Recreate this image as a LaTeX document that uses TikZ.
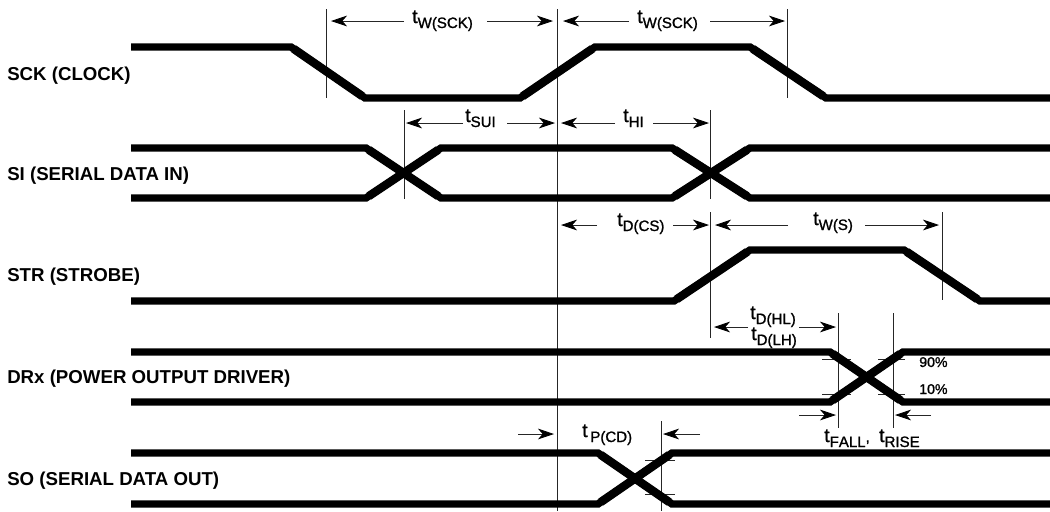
\documentclass[tikz,border=0pt]{standalone}
\usepackage{fontspec}
\usetikzlibrary{arrows.meta}
\setmainfont{Liberation Sans}
\newfontfamily\tlabfont[FakeBold=1.2,Kerning=Off]{Liberation Sans}
\newcommand{\tlab}[1]{{\tlabfont\fontsize{14.5}{15}\selectfont t}\raisebox{-3.75pt}{\tlabfont\fontsize{11.3}{12}\selectfont #1}}
\tikzset{
  wave/.style={line width=5.6pt,line join=miter,line cap=butt,black},
  slope/.style={line width=6.3pt,line cap=butt,black,shorten >=2.5pt,shorten <=2.5pt},
  guide/.style={line width=0.6pt,black!85},
  tick/.style={line width=0.5pt,black!85},
  dimline/.style={line width=0.6pt,black!85,-{Stealth[length=12pt,width=8pt,inset=3.5pt,black]}},
  siglab/.style={anchor=west,inner sep=0,font=\bfseries\fontsize{14}{16}\selectfont},
  tlabel/.style={anchor=base west,inner sep=0},
  pct/.style={anchor=base west,inner sep=0,font=\tlabfont\fontsize{10.6}{12}\selectfont},
}
\newcommand{\darrow}[4]{\coordinate (#1-a) at (#2,#4);\coordinate (#1-b) at (#3,#4);\draw[dimline] (#1-a) -- (#1-b);}
\begin{document}
\begin{tikzpicture}[x=0.75pt,y=-0.75pt]
\useasboundingbox (0,0) rectangle (1050,511);
% guides
\draw[guide] (326,9) -- (326,98);
\draw[guide] (557,9) -- (557,511);
\draw[guide] (787,9) -- (787,98);
\draw[guide] (404,110) -- (404,199);
\draw[guide] (710,110) -- (710,199);
\draw[guide] (710,212) -- (710,338);
\draw[guide] (942,212) -- (942,300);
\draw[guide] (838,313) -- (838,428);
\draw[guide] (893,313) -- (893,428);
\draw[guide] (661,421) -- (661,511);
% ticks
\draw[tick] (822,359) -- (851,359);
\draw[tick] (878,359) -- (905,359);
\draw[tick] (822,394) -- (851,394);
\draw[tick] (878,394) -- (905,394);
\draw[tick] (645,460) -- (675,460);
\draw[tick] (645,494) -- (675,494);
% waveforms
\draw[wave] (131,47) -- (291,47) -- (365,98) -- (520,98) -- (595,47) -- (750,47) -- (826,98) -- (1050,98);
\draw[wave] (131,148) -- (366,148) -- (441,198) -- (672,198) -- (750,148) -- (1050,148);
\draw[wave] (131,198) -- (366,198) -- (441,148) -- (672,148) -- (750,198) -- (1050,198);
\draw[wave] (131,301) -- (674,301) -- (750,250) -- (904,250) -- (980,301) -- (1050,301);
\draw[wave] (131,352) -- (830,352) -- (903,402) -- (1050,402);
\draw[wave] (131,402) -- (830,402) -- (903,352) -- (1050,352);
\draw[wave] (131,453) -- (598,453) -- (672,504) -- (1050,504);
\draw[wave] (131,504) -- (598,504) -- (672,453) -- (1050,453);
% heavier sloped edges
\draw[slope] (291,47) -- (365,98);
\draw[slope] (520,98) -- (595,47);
\draw[slope] (750,47) -- (826,98);
\draw[slope] (366,148) -- (441,198);
\draw[slope] (366,198) -- (441,148);
\draw[slope] (672,198) -- (750,148);
\draw[slope] (672,148) -- (750,198);
\draw[slope] (674,301) -- (750,250);
\draw[slope] (904,250) -- (980,301);
\draw[slope] (830,352) -- (903,402);
\draw[slope] (830,402) -- (903,352);
\draw[slope] (598,453) -- (672,504);
\draw[slope] (598,504) -- (672,453);
% signal labels
\node[siglab] (sck) at (7,76) {SCK (CLOCK)};
\node[siglab] (si) at (7,176) {SI (SERIAL DATA IN)};
\node[siglab] (str) at (7,277) {STR (STROBE)};
\node[siglab] (drx) at (7,379) {DRx (POWER OUTPUT DRIVER)};
\node[siglab] (so) at (7,481) {SO (SERIAL DATA OUT)};
% timing labels
\node[tlabel] (tw1) at (412,23) {\tlab{W(SCK)}};
\node[tlabel] (tw2) at (637,23) {\tlab{W(SCK)}};
\node[tlabel] (tsui) at (465,122) {\tlab{SUI}};
\node[tlabel] (thi) at (623,122) {\tlab{HI}};
\node[tlabel] (tdcs) at (617,226) {\tlab{D(CS)}};
\node[tlabel] (tws) at (813,225) {\tlab{W(S)}};
\node[tlabel] (tdhl) at (750,319) {\tlab{D(HL)}};
\node[tlabel] (tdlh) at (751,340) {\tlab{D(LH)}};
\node[tlabel] (tfr) at (824,442) {\tlab{FALL}{\tlabfont\fontsize{11.3}{12}\selectfont,}\hspace{7pt}\tlab{RISE}};
\node[tlabel] (tpcd) at (582,437) {{\tlabfont\fontsize{14.5}{15}\selectfont t}\hspace{2pt}\raisebox{-3.75pt}{\tlabfont\fontsize{11.3}{12}\selectfont P(CD)}};
\node[pct] (p90) at (919,367) {90\%};
\node[pct] (p10) at (919,394) {10\%};
% dimension arrows
\darrow{a1}{404}{331}{21}
\darrow{a2}{487}{553}{21}
\darrow{a3}{629}{563}{21}
\darrow{a4}{710}{785}{21}
\darrow{a5}{463}{406}{123}
\darrow{a6}{507}{555}{123}
\darrow{a7}{615}{561}{123}
\darrow{a8}{653}{709}{123}
\darrow{a9}{597}{561}{225}
\darrow{a10}{673}{709}{225}
\darrow{a11}{788}{715}{225}
\darrow{a12}{865}{939}{225}
\darrow{a13}{748}{714}{327}
\darrow{a14}{799}{836}{327}
\darrow{a15}{799}{836}{415}
\darrow{a16}{931}{895}{415}
\darrow{a17}{518}{554}{434}
\darrow{a18}{700}{663}{434}
\end{tikzpicture}
\end{document}
